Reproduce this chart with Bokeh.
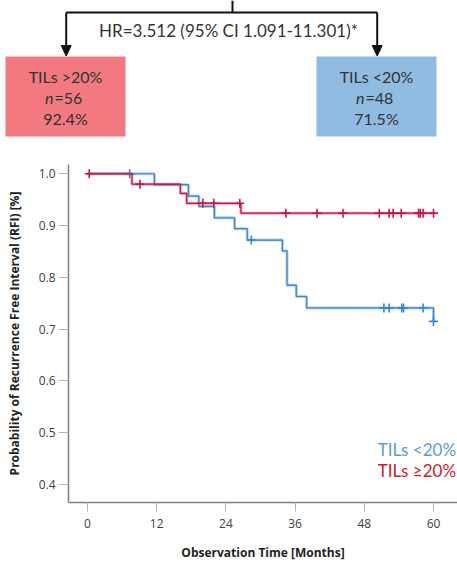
import numpy as np
from bokeh.plotting import figure
from bokeh.layouts import column
from bokeh.models import Range1d, FixedTicker
from bokeh.core.properties import value
from bokeh.embed import file_html
from bokeh.resources import INLINE

# ---------------- data ----------------
group_labels = ["TILs >20%", "TILs <20%"]
group_n = ["=56", "=48"]
group_pct = ["92.4%", "71.5%"]
hr_text = "HR=3.512 (95% CI 1.091-11.301)*"

legend_labels = ["TILs <20%", "TILs \u226520%"]

# TILs >=20% (red)
red_times = [0, 7.7, 16.1, 17.2, 26.6, 60.0]
red_surv = [1.0, 0.980, 0.962, 0.943, 0.924, 0.924]
red_censor = [0.3, 9.1, 20.0, 21.9, 26.4, 34.4, 39.8, 44.3, 50.6, 52.3, 53.0,
              54.4, 57.4, 57.7, 58.2, 60.0]

# TILs <20% (blue)
blue_times = [0, 11.6, 17.5, 19.3, 22.0, 25.5, 27.7, 33.8, 34.6, 36.2, 38.0, 60.0]
blue_surv = [1.0, 0.979, 0.957, 0.937, 0.915, 0.894, 0.872, 0.851, 0.785, 0.763,
             0.741, 0.715]
blue_censor = [7.3, 28.4, 51.4, 52.3, 54.5, 54.8, 58.2, 60.0]

x_ticks = [0, 12, 24, 36, 48, 60]
y_ticks = [0.4, 0.5, 0.6, 0.7, 0.8, 0.9, 1.0]
y_tick_labels = ["0.4", "0.5", "0.6", "0.7", "0.8", "0.9", "1.0"]

RED = "#C2184A"
BLUE = "#3D86C8"
RED_TXT = "#CE1A2E"
BLUE_TXT = "#5B9BD5"
CAL = "Lato"
AXF = "Open Sans"


def censor_y(times, surv, ct):
    idx = np.searchsorted(np.array(times), np.array(ct), side="right") - 1
    return list(np.array(surv)[idx])


# ---------------- top diagram ----------------
top = figure(width=457, height=150, x_range=Range1d(0, 457), y_range=Range1d(150, 0),
             x_axis_location=None, y_axis_location=None, toolbar_location=None,
             output_backend="svg", min_border=0, outline_line_color=None)
top.grid.visible = False

top.line([232, 232], [0, 12], line_color="#111111", line_width=2)
top.line([65.7, 376.7], [12, 12], line_color="#111111", line_width=2)
top.line([65.7, 65.7], [12, 46], line_color="#111111", line_width=2)
top.line([376.7, 376.7], [12, 46], line_color="#111111", line_width=2)
top.patch([60.7, 70.7, 65.7], [45, 45, 55.5], fill_color="#111111", line_color="#111111")
top.patch([371.7, 381.7, 376.7], [45, 45, 55.5], fill_color="#111111", line_color="#111111")

top.text(x=[228], y=[30], text=[hr_text], text_font=value(CAL), text_font_size="17px",
         text_align="center", text_baseline="middle", text_color="#333333")

box_left = [5, 316]
box_right = [125, 436]
box_cols = ["#F2797F", "#8FBCE0"]
top.quad(left=box_left, right=box_right, top=[56, 56], bottom=[136, 136],
         fill_color=box_cols, line_color=None)
cx = [(a + b) / 2 for a, b in zip(box_left, box_right)]
top.text(x=cx, y=[76, 76], text=group_labels, text_font=value(CAL), text_font_size="16px",
         text_align="center", text_baseline="middle", text_color="#333333")
top.text(x=[c - 12 for c in cx], y=[97, 97], text=["n", "n"], text_font=value(CAL),
         text_font_size="16px", text_font_style="italic", text_align="right",
         text_baseline="middle", text_color="#333333")
top.text(x=[c - 11 for c in cx], y=[97, 97], text=group_n, text_font=value(CAL),
         text_font_size="16px", text_align="left", text_baseline="middle",
         text_color="#333333")
top.text(x=cx, y=[118, 118], text=group_pct, text_font=value(CAL), text_font_size="16px",
         text_align="center", text_baseline="middle", text_color="#333333")

# ---------------- KM chart ----------------
p = figure(width=457, height=413, x_range=Range1d(-3.3, 64.16),
           y_range=Range1d(0.3653, 1.0179), toolbar_location=None, output_backend="svg",
           min_border_left=68, min_border_right=0, min_border_top=14, min_border_bottom=60,
           outline_line_color=None)
p.grid.visible = False

for t, s, c, col in [(blue_times, blue_surv, blue_censor, BLUE),
                     (red_times, red_surv, red_censor, RED)]:
    p.step(t, s, mode="after", line_color=col, line_width=3, line_alpha=0.4)
    p.step(t, s, mode="after", line_color=col, line_width=1.2)
    p.scatter(c, censor_y(t, s, c), marker="cross", size=9, line_color=col, line_width=1.6)

p.text(x=[63.9, 63.9], y=[0.467, 0.427], text=legend_labels, text_color=[BLUE_TXT, RED_TXT],
       text_font=value(CAL), text_font_size="17px", text_align="right",
       text_baseline="middle")

for ax in (p.xaxis[0], p.yaxis[0]):
    ax.axis_line_color = "#808080"
    ax.axis_line_width = 1.5
    ax.major_tick_line_color = "#b5b5b5"
    ax.major_tick_line_width = 1
    ax.major_tick_in = 0
    ax.minor_tick_line_color = None
    ax.major_label_text_font = AXF
    ax.major_label_text_font_size = "12px"
    ax.major_label_text_color = "#404040"
    ax.axis_label_text_font = AXF
    ax.axis_label_text_font_size = "12px"
    ax.axis_label_text_font_style = "bold"
    ax.axis_label_text_color = "#222222"

p.xaxis.ticker = FixedTicker(ticks=x_ticks)
p.xaxis.major_tick_out = 9
p.xaxis.major_label_standoff = 7
p.xaxis.axis_label = "Observation Time [Months]"
p.xaxis.axis_label_standoff = 13

p.yaxis.ticker = FixedTicker(ticks=y_ticks)
p.yaxis.major_label_overrides = {t: l for t, l in zip(y_ticks, y_tick_labels)}
p.yaxis.major_tick_out = 10
p.yaxis.major_label_standoff = 3
p.yaxis.axis_label = "Probability of Recurrence Free Interval (RFI) [%]"
p.yaxis.axis_label_standoff = 13

try:
    top.frame_align = False
    p.frame_align = False
    roots = column(top, p, spacing=0)
except Exception:
    roots = [top, p]

open("out.html", "w").write(file_html(roots, INLINE))
